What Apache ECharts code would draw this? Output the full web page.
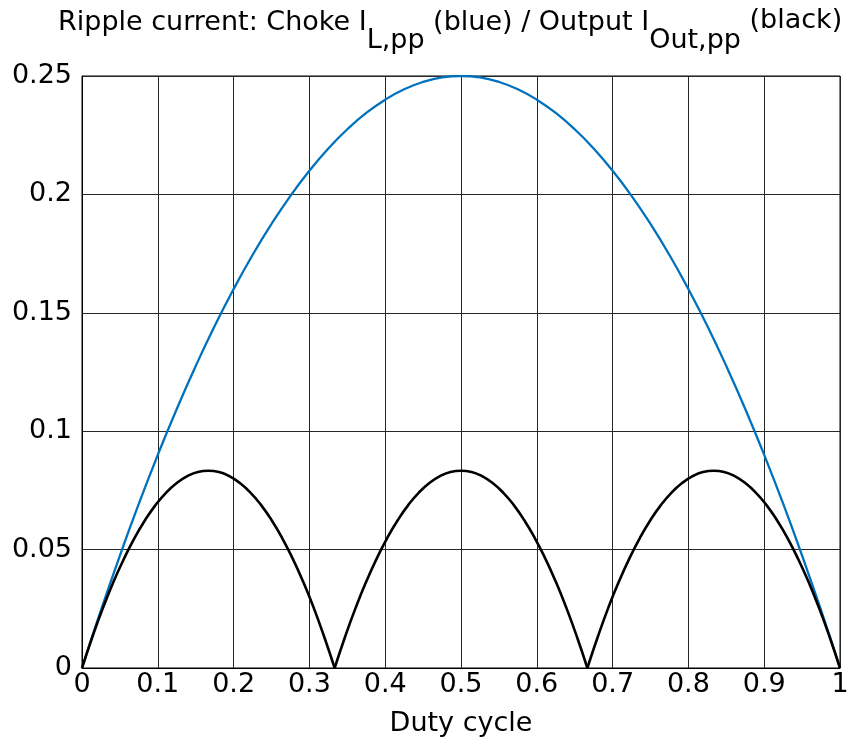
<!DOCTYPE html>
<html>
<head>
<meta charset="utf-8">
<script src="https://cdn.jsdelivr.net/npm/echarts@6/dist/echarts.min.js"></script>
<style>
html, body { margin: 0; padding: 0; background: #fff; }
#main { width: 865px; height: 737px; }
</style>
</head>
<body>
<div id="main"></div>
<script>
// blue: choke ripple
var dutyBlue = [0, 0.025, 0.05, 0.075, 0.1, 0.125, 0.15, 0.175, 0.2, 0.225, 0.25, 0.275, 0.3, 0.325, 0.35, 0.375, 0.4, 0.425, 0.45, 0.475, 0.5,
    0.525, 0.55, 0.575, 0.6, 0.625, 0.65, 0.675, 0.7, 0.725, 0.75, 0.775, 0.8, 0.825, 0.85, 0.875, 0.9, 0.925, 0.95, 0.975, 1]
var chokeRipple = [0, 0.0244, 0.0475, 0.0694, 0.09, 0.1094, 0.1275, 0.1444, 0.16, 0.1744, 0.1875, 0.1994, 0.21, 0.2194, 0.2275, 0.2344, 0.24, 0.2444, 0.2475, 0.2494, 0.25,
    0.2494, 0.2475, 0.2444, 0.24, 0.2344, 0.2275, 0.2194, 0.21, 0.1994, 0.1875, 0.1744, 0.16, 0.1444, 0.1275, 0.1094, 0.09, 0.0694, 0.0475, 0.0244, 0]

// black: output ripple, three identical arches (drawn as 3 pieces so the zeros stay sharp)
var dutyArch1 = [0, 0.0139, 0.0278, 0.0417, 0.0556, 0.0694, 0.0833, 0.0972, 0.1111, 0.125, 0.1389, 0.1528, 0.1667,
    0.1806, 0.1944, 0.2083, 0.2222, 0.2361, 0.25, 0.2639, 0.2778, 0.2917, 0.3056, 0.3194, 0.3333]
var dutyArch2 = [0.3333, 0.3472, 0.3611, 0.375, 0.3889, 0.4028, 0.4167, 0.4306, 0.4444, 0.4583, 0.4722, 0.4861, 0.5,
    0.5139, 0.5278, 0.5417, 0.5556, 0.5694, 0.5833, 0.5972, 0.6111, 0.625, 0.6389, 0.6528, 0.6667]
var dutyArch3 = [0.6667, 0.6806, 0.6944, 0.7083, 0.7222, 0.7361, 0.75, 0.7639, 0.7778, 0.7917, 0.8056, 0.8194, 0.8333,
    0.8472, 0.8611, 0.875, 0.8889, 0.9028, 0.9167, 0.9306, 0.9444, 0.9583, 0.9722, 0.9861, 1]
var outputArch = [0, 0.0133, 0.0255, 0.0365, 0.0463, 0.055, 0.0625, 0.0689, 0.0741, 0.0781, 0.081, 0.0828, 0.0833,
    0.0828, 0.081, 0.0781, 0.0741, 0.0689, 0.0625, 0.055, 0.0463, 0.0365, 0.0255, 0.0133, 0]

var FONT = 'DejaVu Sans'
var FS = 27
var chart = echarts.init(document.getElementById('main'))

function pairs(xs, ys) {
    return xs.map(function (x, i) { return [x, ys[i]] })
}

function blackArch(xs, ys) {
    return {
        name: 'Output',
        type: 'line',
        data: pairs(xs, ys),
        smooth: true,
        symbol: 'none',
        lineStyle: { color: '#000', width: 2.6 },
        z: 4
    }
}

var txt = { fontFamily: FONT, fontSize: FS, fontWeight: 'normal', color: '#000', verticalAlign: 'top' }

var option = {
    backgroundColor: '#fff',
    animation: false,
    textStyle: { fontFamily: FONT },
    title: {
        text: '{n|Ripple current: Choke I}{s|L,pp}{n| (blue) / Output I}{s|Out,pp}{u| (black)}',
        left: 53,
        top: 0,
        textStyle: {
            fontWeight: 'normal',
            rich: {
                n: Object.assign({}, txt, { padding: [4, 0, 0, 0] }),
                s: Object.assign({}, txt, { padding: [22, 0, 0, 0] }),
                u: Object.assign({}, txt, { padding: [2, 0, 0, 0] })
            }
        }
    },
    grid: {
        left: 82,
        right: 25,
        top: 76,
        bottom: 69,
        outerBoundsMode: 'none',
        containLabel: false,
        show: true,
        borderColor: '#000',
        borderWidth: 1
    },
    xAxis: {
        type: 'value',
        min: 0,
        max: 1,
        interval: 0.1,
        name: 'Duty cycle',
        nameLocation: 'middle',
        nameGap: 42,
        nameTextStyle: { fontFamily: FONT, fontSize: FS, color: '#000' },
        axisLine: { show: true, lineStyle: { color: '#000', width: 1 } },
        axisTick: { show: false },
        axisLabel: {
            fontFamily: FONT, fontSize: FS, color: '#000', margin: 3,
            formatter: function (v) { return String(+v.toFixed(2)) }
        },
        splitLine: { show: true, lineStyle: { color: '#262626', width: 1 } }
    },
    yAxis: {
        type: 'value',
        min: 0,
        max: 0.25,
        interval: 0.05,
        axisLine: { show: true, lineStyle: { color: '#000', width: 1 } },
        axisTick: { show: false },
        axisLabel: {
            fontFamily: FONT, fontSize: FS, color: '#000', margin: 10,
            formatter: function (v) { return String(+v.toFixed(2)) }
        },
        splitLine: { show: true, lineStyle: { color: '#262626', width: 1 } }
    },
    series: [{
        name: 'Choke',
        type: 'line',
        data: pairs(dutyBlue, chokeRipple),
        smooth: true,
        symbol: 'none',
        lineStyle: { color: '#0072BD', width: 2.3 },
        z: 3
    },
        blackArch(dutyArch1, outputArch),
        blackArch(dutyArch2, outputArch),
        blackArch(dutyArch3, outputArch)
    ]
}
chart.setOption(option)
</script>
</body>
</html>
